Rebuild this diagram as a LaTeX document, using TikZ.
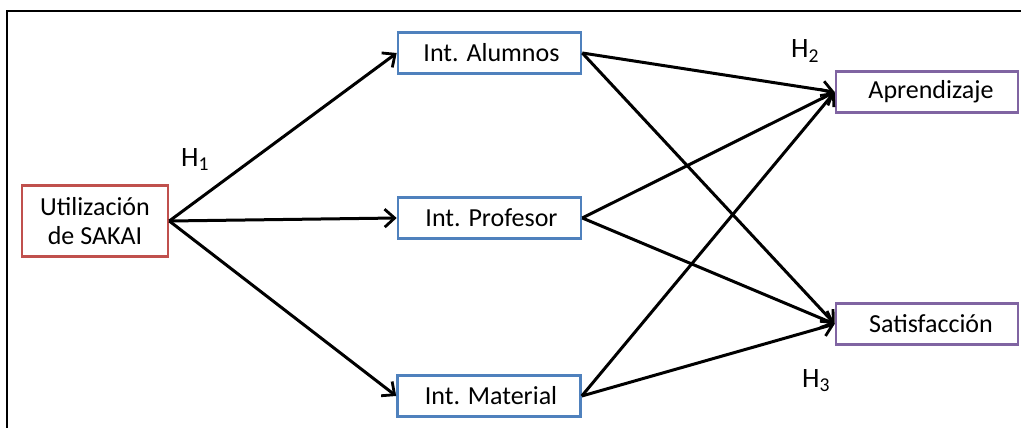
\documentclass[tikz,border=0pt]{standalone}
\usepackage{fontspec}
\setmainfont{Carlito}
\usetikzlibrary{arrows.meta}
\definecolor{cred}{RGB}{192,80,77}
\definecolor{cblue}{RGB}{79,129,189}
\definecolor{cpurple}{RGB}{128,100,162}
\tikzset{
  box/.style={draw, line width=2.6pt, rectangle, inner sep=0pt, align=center, font=\fontsize{26}{29}\selectfont},
  redbox/.style={box, draw=cred},
  bluebox/.style={box, draw=cblue, minimum width=183pt, minimum height=41pt},
  purplebox/.style={box, draw=cpurple, minimum width=182pt, minimum height=41pt},
  conn/.style={line width=3pt, -{Straight Barb[length=10pt,width=18pt,line width=2.8pt]}},
  hlab/.style={anchor=base west, inner sep=0pt, font=\fontsize{28}{30}\selectfont},
}
\begin{document}
\begin{tikzpicture}[x=1pt,y=-1pt]
\useasboundingbox (0,0) rectangle (1021,428);
\draw[line width=1.8pt] (7,428) -- (7,11) -- (1021,11);
\node[redbox, minimum width=146pt, minimum height=71pt] (util) at (95,221) {Utilización\\de SAKAI};
\node[bluebox] (alum) at (489.5,53) {\hspace*{4pt}Int. Alumnos};
\node[bluebox] (prof) at (489.5,218) {\hspace*{4pt}Int. Profesor};
\node[bluebox] (mat) at (489,396) {\hspace*{4pt}Int. Material};
\node[purplebox] (apr) at (927,92) {\hspace*{8pt}Aprendizaje};
\node[purplebox] (sat) at (927,324) {\hspace*{8pt}Satisfacción};
\draw[conn] (util.east) -- (alum.west);
\draw[conn] (util.east) -- (prof.west);
\draw[conn] (util.east) -- (mat.west);
\draw[conn] (alum.east) -- (apr.west);
\draw[conn] (alum.east) -- (sat.west);
\draw[conn] (prof.east) -- (apr.west);
\draw[conn] (prof.east) -- (sat.west);
\draw[conn] (mat.east) -- (apr.west);
\draw[conn] (mat.east) -- (sat.west);
\node[hlab] (h1) at (181,166) {H\textsubscript{1}};
\node[hlab] (h2) at (791,58) {H\textsubscript{2}};
\node[hlab] (h3) at (802,387) {H\textsubscript{3}};
\end{tikzpicture}
\end{document}
